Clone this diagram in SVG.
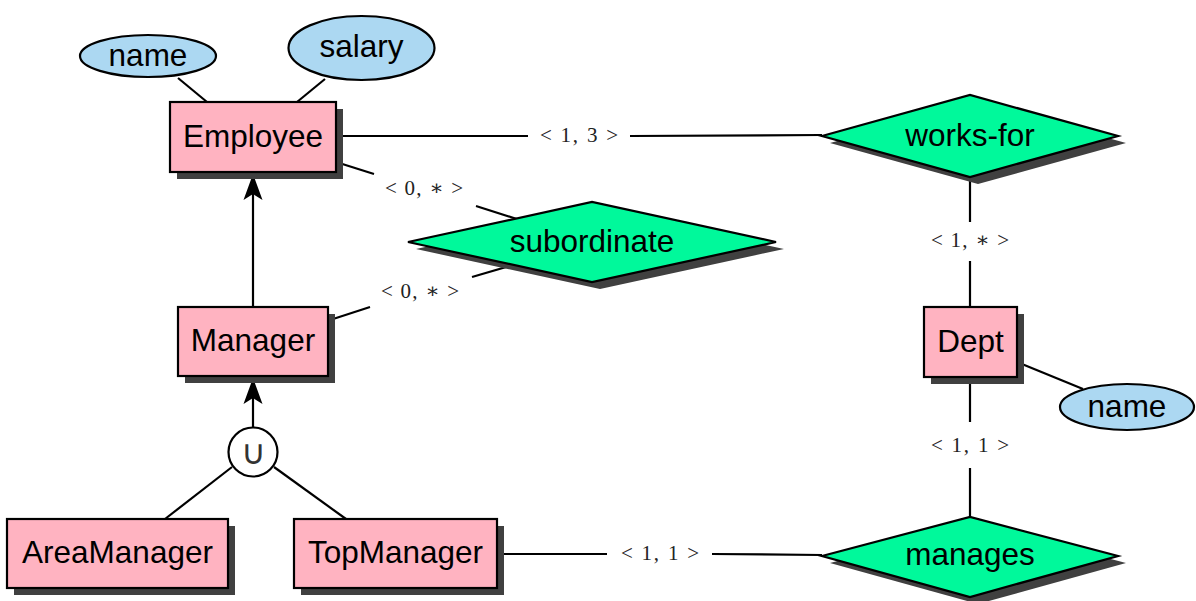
<svg xmlns="http://www.w3.org/2000/svg" width="1196" height="601" viewBox="0 0 1196 601">
<style>
.ent{fill:#ffb3c1;stroke:#000;stroke-width:2.2}
.shadow{fill:#404040}
.rel{fill:#00f99b;stroke:#000;stroke-width:2.2}
.attr{fill:#acd8f2;stroke:#000;stroke-width:2.2}
.t{font-family:"Liberation Sans",Arial,sans-serif;font-size:31.5px;fill:#000;text-anchor:middle;dominant-baseline:central}
.lbl{font-family:"Liberation Serif","DejaVu Serif",serif;font-size:21px;fill:#222;text-anchor:middle;dominant-baseline:central}
.c line{stroke:#000;stroke-width:2.2;fill:none}
</style>
<defs>
<marker id="arr" viewBox="-27 -11 29 22" markerWidth="29" markerHeight="22" refX="0" refY="0" orient="auto" markerUnits="userSpaceOnUse">
<path d="M0,0 L-26,-9.5 L-20,0 L-26,9.5 Z" fill="#000"/>
</marker>
</defs>
<rect width="1196" height="601" fill="#fff"/>
<g class="c" id="connectors">
<line x1="178" y1="78" x2="207" y2="102"/>
<line x1="325" y1="79" x2="297" y2="102"/>
<line x1="336" y1="136" x2="528" y2="136"/>
<line x1="630" y1="136" x2="822" y2="135"/>
<line x1="336" y1="162" x2="374" y2="174"/>
<line x1="476" y1="206" x2="520" y2="220"/>
<line x1="330" y1="320" x2="370" y2="307"/>
<line x1="472" y1="277" x2="516" y2="264"/>
<line x1="253" y1="307" x2="253" y2="174" marker-end="url(#arr)"/>
<line x1="253" y1="427" x2="253" y2="378" marker-end="url(#arr)"/>
<line x1="232" y1="467" x2="165" y2="519"/>
<line x1="274" y1="467" x2="346" y2="519"/>
<line x1="497" y1="554" x2="607" y2="554"/>
<line x1="712" y1="554" x2="822" y2="555"/>
<line x1="970" y1="177" x2="970" y2="222"/>
<line x1="970" y1="261" x2="970" y2="307"/>
<line x1="970" y1="377" x2="970" y2="422"/>
<line x1="970" y1="468" x2="970" y2="517"/>
<line x1="1017" y1="362" x2="1083" y2="389"/>
<text class="lbl" x="579" y="135" textLength="78">&lt; 1, 3 &gt;</text>
<text class="lbl" x="424" y="188" textLength="78">&lt; 0, ∗ &gt;</text>
<text class="lbl" x="420" y="291" textLength="78">&lt; 0, ∗ &gt;</text>
<text class="lbl" x="970" y="240" textLength="78">&lt; 1, ∗ &gt;</text>
<text class="lbl" x="970" y="445" textLength="78">&lt; 1, 1 &gt;</text>
<text class="lbl" x="660" y="553" textLength="78">&lt; 1, 1 &gt;</text>
</g>
<g id="attr-name">
<ellipse class="attr" cx="148" cy="56" rx="68" ry="21"/>
<text class="t" x="148" y="55">name</text>
</g>
<g id="attr-salary">
<ellipse class="attr" cx="361.5" cy="48" rx="73" ry="32"/>
<text class="t" x="361.5" y="46">salary</text>
</g>
<g id="Employee">
<rect class="shadow" x="177" y="109" width="166" height="70"/>
<rect class="ent" x="170" y="102" width="166" height="70"/>
<text class="t" x="253" y="136">Employee</text>
</g>
<g id="works-for">
<polygon class="shadow" points="830,143 978,102 1126,143 978,184"/>
<polygon class="rel" points="822,136 970,95 1118,136 970,177"/>
<text class="t" x="970" y="135">works-for</text>
</g>
<g id="subordinate">
<polygon class="shadow" points="416,249 600,209 784,249 600,289"/>
<polygon class="rel" points="408,242 592,202 776,242 592,282"/>
<text class="t" x="592" y="241">subordinate</text>
</g>
<g id="Manager">
<rect class="shadow" x="185" y="314" width="150" height="69"/>
<rect class="ent" x="178" y="307" width="150" height="69"/>
<text class="t" x="253" y="340">Manager</text>
</g>
<g id="union">
<circle cx="253" cy="452" r="24.5" fill="#fff" stroke="#000" stroke-width="2.2"/>
<text x="253" y="452" font-family="'DejaVu Sans',sans-serif" font-size="34" font-weight="200" fill="#333" text-anchor="middle" dominant-baseline="central">∪</text>
</g>
<g id="AreaManager">
<rect class="shadow" x="14" y="526" width="221" height="69"/>
<rect class="ent" x="7" y="519" width="221" height="69"/>
<text class="t" x="117.5" y="552">AreaManager</text>
</g>
<g id="TopManager">
<rect class="shadow" x="301" y="526" width="203" height="69"/>
<rect class="ent" x="294" y="519" width="203" height="69"/>
<text class="t" x="395.5" y="552">TopManager</text>
</g>
<g id="Dept">
<rect class="shadow" x="931" y="314" width="93" height="70"/>
<rect class="ent" x="924" y="307" width="93" height="70"/>
<text class="t" x="970.5" y="341">Dept</text>
</g>
<g id="attr-dept-name">
<ellipse class="attr" cx="1127" cy="407" rx="67" ry="23"/>
<text class="t" x="1127" y="406">name</text>
</g>
<g id="manages">
<polygon class="shadow" points="830,563 978,524 1126,563 978,604"/>
<polygon class="rel" points="822,556 970,517 1118,556 970,597"/>
<text class="t" x="970" y="554">manages</text>
</g>
</svg>
